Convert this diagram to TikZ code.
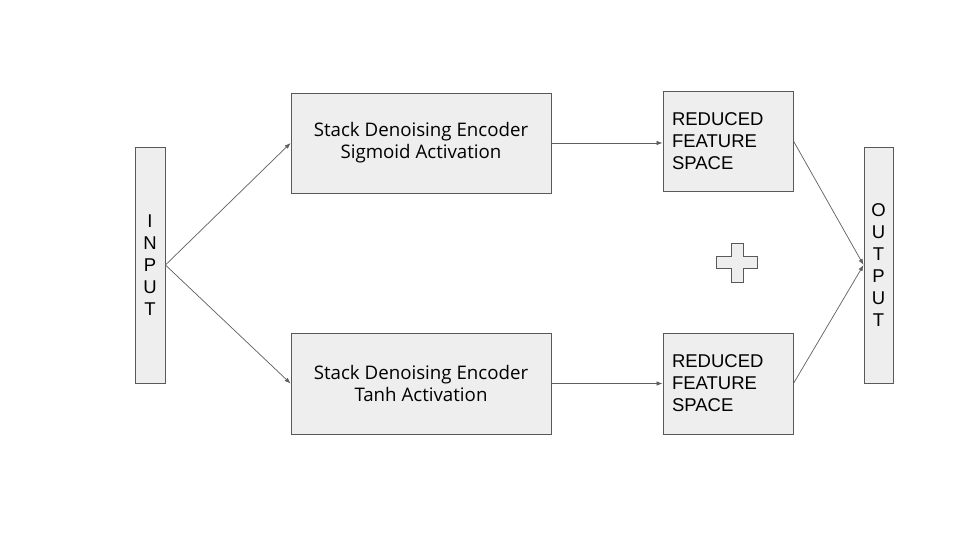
\documentclass[tikz,border=0pt]{standalone}
\usepackage{fontspec}
\setmainfont{Liberation Sans}
\newfontfamily\encfont{Open Sans}
\usetikzlibrary{arrows.meta}
\definecolor{boxfill}{HTML}{EEEEEE}
\definecolor{boxline}{HTML}{595959}
\definecolor{arrowc}{HTML}{5F5F5F}
\begin{document}
\begin{tikzpicture}[x=1pt,y=-1pt,
  box/.style={draw=boxline,fill=boxfill,line width=0.9pt,inner sep=0pt},
  enc/.style={box,minimum width=260pt,font=\encfont\fontsize{18.7}{22}\selectfont,align=center},
  red/.style={box,minimum width=130pt,text width=112pt,align=left,font=\fontsize{18.5}{22}\selectfont},
  bar/.style={box,minimum width=30pt,minimum height=236pt,align=center,font=\fontsize{18.5}{22}\selectfont},
  conn/.style={draw=arrowc,line width=0.7pt,-{Latex[length=6pt,width=4.5pt]}}]
\useasboundingbox (0,0) rectangle (960,540);
\fill[white] (0,0) rectangle (960,540);
\node[bar] (in) at (150,265) {I\\N\\P\\U\\T};
\node[bar,minimum width=29pt] (out) at (878.5,265) {O\\U\\T\\P\\U\\T};
\node[enc,minimum height=100pt] (e1) at (421,143) {Stack Denoising Encoder\\Sigmoid Activation};
\node[enc,minimum height=101pt] (e2) at (421,383.5) {Stack Denoising Encoder\\Tanh Activation};
\node[red,minimum height=100pt] (r1) at (728,141) {REDUCED\\FEATURE\\SPACE};
\node[red,minimum height=101pt] (r2) at (728,383.5) {REDUCED\\FEATURE\\SPACE};
\draw[box] (716,256) -- (731,256) -- (731,243) -- (743,243) -- (743,256) -- (757,256)
  -- (757,268) -- (743,268) -- (743,282) -- (731,282) -- (731,268) -- (716,268) -- cycle;
\draw[conn] (in.east) -- (e1.west);
\draw[conn] (in.east) -- (e2.west);
\draw[conn] (e1.east |- 0,143) -- (r1.west |- 0,143);
\draw[conn] (e2.east) -- (r2.west |- e2.east);
\draw[conn] (r1.east) -- (out.west);
\draw[conn] (r2.east) -- (out.west);
\end{tikzpicture}
\end{document}
